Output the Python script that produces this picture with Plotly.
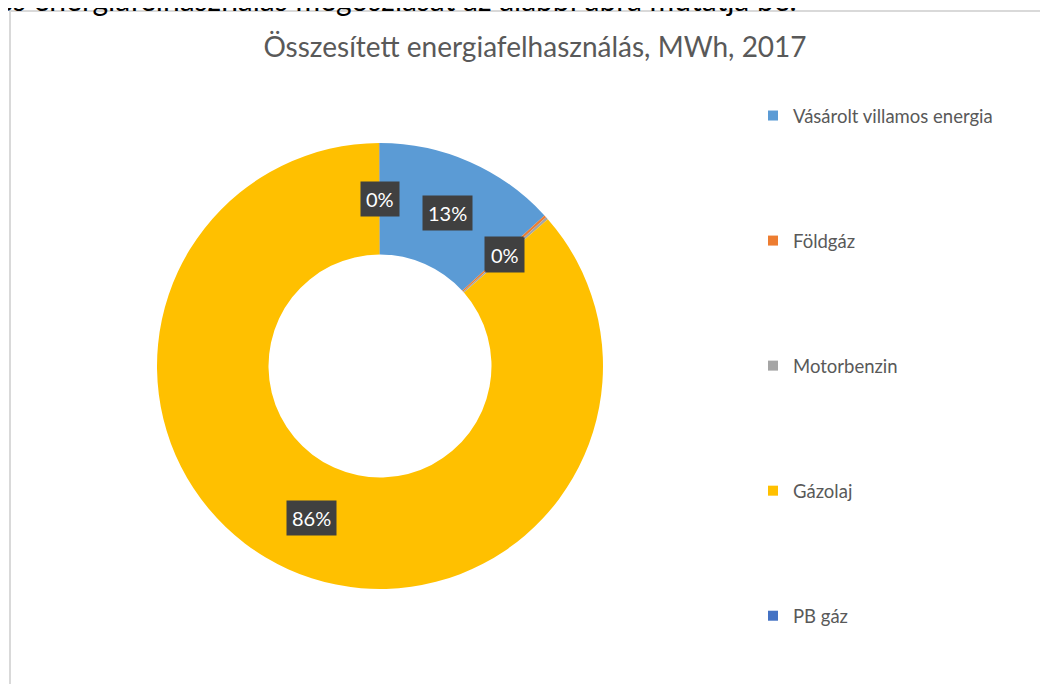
import math
import plotly.graph_objects as go

# data (share of total energy use, %)
categories = ["Vásárolt villamos energia", "Földgáz", "Motorbenzin", "Gázolaj", "PB gáz"]
values = [13.2, 0.18, 0.18, 86.4, 0.04]
colors = ["#5B9BD5", "#ED7D31", "#A5A5A5", "#FFC000", "#4472C4"]

W, H = 1048, 684
OFF = 8  # the page body adds an 8px margin
FONT = "Lato"
GREY = "#595959"


def px_x(p):
    return (p - OFF) / W


def px_y(p):
    return 1 - (p - OFF) / H


# pie placement in screen pixels -> paper domain
cx, cy, R = 380, 366, 223
HOLE = 0.5

fig = go.Figure()
fig.add_trace(go.Pie(
    labels=categories, values=values, hole=HOLE, sort=False,
    direction="clockwise", rotation=0,
    marker=dict(colors=colors, line=dict(width=0)),
    textinfo="none", hoverinfo="label+percent",
    domain=dict(x=[px_x(cx - R), px_x(cx + R)], y=[px_y(cy + R), px_y(cy - R)]),
    showlegend=False,
))

# data labels in dark boxes, at the middle of each slice on the mid ring
total = sum(values)
r_mid = R * (1 + HOLE) / 2
cum = 0.0
annotations = []
for v in values:
    theta = 2 * math.pi * (cum + v / 2) / total
    cum += v
    annotations.append(dict(
        x=px_x(cx + r_mid * math.sin(theta)), y=px_y(cy - r_mid * math.cos(theta)),
        xref="paper", yref="paper", xanchor="center", yanchor="middle",
        text=f"{round(100 * v / total)}%", showarrow=False,
        font=dict(family=FONT, size=20, color="white"),
        bgcolor="#404040", borderpad=5,
    ))

# legend entries via dummy traces so they can be spaced like the original
for name, col in zip(categories, colors):
    fig.add_trace(go.Scatter(
        x=[None], y=[None], mode="markers", name=name, legendgroup=name,
        marker=dict(symbol="square", size=10, color=col),
    ))

# cropped line of body text above the chart
annotations.append(dict(
    x=px_x(799), y=px_y(19), xref="paper", yref="paper", xanchor="right", yanchor="bottom",
    text="és energiafelhasználás megoszlását az alábbi ábra mutatja be.", showarrow=False,
    font=dict(family=FONT, size=30, color="black"),
))

fig.update_layout(
    width=W, height=H,
    paper_bgcolor="white", plot_bgcolor="white",
    margin=dict(l=0, r=0, t=0, b=0),
    title=dict(text="Összesített energiafelhasználás, MWh, 2017",
               x=px_x(535), xanchor="center", y=px_y(47), yanchor="middle",
               font=dict(family=FONT, size=28, color=GREY)),
    xaxis=dict(visible=False), yaxis=dict(visible=False),
    legend=dict(x=px_x(753), y=px_y(97), xanchor="left", yanchor="top",
                tracegroupgap=98, font=dict(family=FONT, size=18.5, color=GREY),
                itemwidth=30),
    annotations=annotations,
    shapes=[dict(type="rect", xref="paper", yref="paper",
                 x0=px_x(10), x1=1.05, y0=-0.05, y1=px_y(11),
                 line=dict(color="#D9D9D9", width=2))],
)

fig.write_html("out.html")
